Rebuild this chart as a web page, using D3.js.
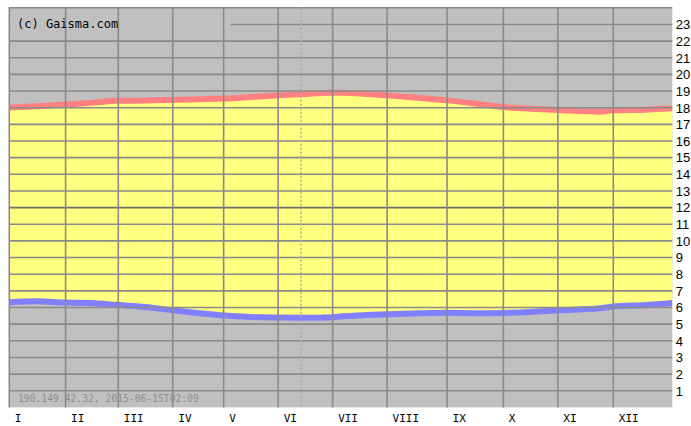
<!DOCTYPE html>
<html>
<head>
<meta charset="utf-8">
<script src="https://cdn.jsdelivr.net/npm/d3@7"></script>
<style>
  html, body { margin: 0; padding: 0; background: #ffffff; }
  svg { display: block; }
</style>
</head>
<body>
<svg id="chart" width="691" height="426"></svg>
<script>
// Day-of-year positions where each month column begins on the chart
const monthStartDay = [0, 31, 60, 90, 118, 148, 178, 208, 241, 272, 302, 332.5];
const monthLabels = ["I", "II", "III", "IV", "V", "VI", "VII", "VIII", "IX", "X", "XI", "XII"];
const hourTicks = [1, 2, 3, 4, 5, 6, 7, 8, 9, 10, 11, 12, 13, 14, 15, 16, 17, 18, 19, 20, 21, 22, 23];

// Sunrise and sunset (decimal hours) through the year
const sampleDay = [0, 15, 31, 45, 59, 75, 90, 104, 118, 133, 148, 163, 178, 183, 208, 225, 241, 257, 272, 287, 302, 325, 332, 350, 365];
const sunset    = [18.01, 18.08, 18.2, 18.29, 18.41, 18.43, 18.47, 18.51, 18.55, 18.64, 18.74, 18.83, 18.9, 18.9, 18.74, 18.6, 18.44, 18.24, 18.04, 17.94, 17.86, 17.76, 17.84, 17.88, 17.96];
const sunrise   = [6.32, 6.38, 6.3, 6.27, 6.16, 6.03, 5.83, 5.67, 5.52, 5.43, 5.4, 5.39, 5.42, 5.47, 5.6, 5.65, 5.68, 5.65, 5.67, 5.73, 5.83, 5.95, 6.05, 6.15, 6.27];

const todayDay = 160.6;
const copyright = "(c) Gaisma.com";
const stamp = "190.149.42.32, 2015-06-15T02:09";

(function () {
  const svg = d3.select("#chart");
  const pLeft = 9.3, pRight = 672.3, pTop = 7.8, pBottom = 407.4;
  const gridColor = "#8a8a8a";

  const x = d3.scaleLinear().domain([0, 365]).range([pLeft, pRight]);
  const y = d3.scaleLinear().domain([0, 24]).range([pBottom, pTop]);

  const rows = sampleDay.map((d, i) => ({ day: d, rise: sunrise[i], set: sunset[i] }));

  // night background
  svg.append("rect")
    .attr("x", pLeft).attr("y", pTop)
    .attr("width", pRight - pLeft).attr("height", pBottom - pTop)
    .attr("fill", "#c0c0c0");

  // daylight band
  svg.append("path")
    .datum(rows)
    .attr("fill", "#ffff80")
    .attr("d", d3.area()
      .x(d => x(d.day))
      .y0(d => y(d.rise))
      .y1(d => y(d.set))
      .curve(d3.curveMonotoneX));

  svg.append("clipPath").attr("id", "plot")
    .append("rect")
    .attr("x", pLeft).attr("y", pTop)
    .attr("width", pRight - pLeft).attr("height", pBottom - pTop);

  const lineGen = key => d3.line()
    .x(d => x(d.day))
    .y(d => y(d[key]))
    .curve(d3.curveMonotoneX);

  svg.append("path")
    .datum(rows)
    .attr("clip-path", "url(#plot)")
    .attr("fill", "none")
    .attr("stroke", "#ff8080")
    .attr("stroke-width", 6)
    .attr("d", lineGen("set"));

  svg.append("path")
    .datum(rows)
    .attr("clip-path", "url(#plot)")
    .attr("fill", "none")
    .attr("stroke", "#8080ff")
    .attr("stroke-width", 6)
    .attr("d", lineGen("rise"));

  // hour grid lines (1..24, the 24h line being the top border)
  const hourLines = hourTicks.concat([24]);
  svg.append("g")
    .selectAll("line")
    .data(hourLines)
    .join("line")
    .attr("x1", pLeft).attr("x2", pRight)
    .attr("y1", d => y(d)).attr("y2", d => y(d))
    .attr("stroke", d => d === 12 ? "#6e6e6e" : gridColor)
    .attr("stroke-width", 1.6);

  // plain backing behind the copyright line
  svg.append("rect")
    .attr("x", pLeft + 1).attr("y", y(23.6))
    .attr("width", 220).attr("height", y(22.4) - y(23.6))
    .attr("fill", "#c0c0c0");

  // month grid lines
  svg.append("g")
    .selectAll("line")
    .data(monthStartDay)
    .join("line")
    .attr("x1", d => x(d)).attr("x2", d => x(d))
    .attr("y1", pTop - 0.8).attr("y2", pBottom)
    .attr("stroke", gridColor)
    .attr("stroke-width", 1.6);

  // current date marker
  svg.append("line")
    .attr("x1", x(todayDay)).attr("x2", x(todayDay))
    .attr("y1", pTop).attr("y2", pBottom)
    .attr("stroke", "#a8a8a8")
    .attr("stroke-width", 1.5)
    .attr("stroke-dasharray", "2,2");

  // hour labels on the right
  svg.append("g")
    .selectAll("text")
    .data(hourTicks)
    .join("text")
    .attr("x", pRight + 3.5)
    .attr("y", d => y(d) + 4.8)
    .attr("font-family", "'Liberation Sans', Arial, sans-serif")
    .attr("font-size", 13)
    .attr("fill", "#000")
    .text(d => d);

  // month labels along the bottom
  svg.append("g")
    .selectAll("text")
    .data(monthStartDay)
    .join("text")
    .attr("x", d => x(d) + 5.5)
    .attr("y", 421.7)
    .attr("font-family", "'DejaVu Sans Mono', monospace")
    .attr("font-size", 11)
    .attr("fill", "#000")
    .text((d, i) => monthLabels[i]);

  svg.append("text")
    .attr("x", 17)
    .attr("y", 28.3)
    .attr("font-family", "'DejaVu Sans Mono', monospace")
    .attr("font-size", 12)
    .attr("fill", "#000")
    .text(copyright);

  svg.append("text")
    .attr("x", 18)
    .attr("y", 401.7)
    .attr("font-family", "'DejaVu Sans Mono', monospace")
    .attr("font-size", 9.7)
    .attr("fill", "#8e8e8e")
    .text(stamp);
})();
</script>
</body>
</html>
